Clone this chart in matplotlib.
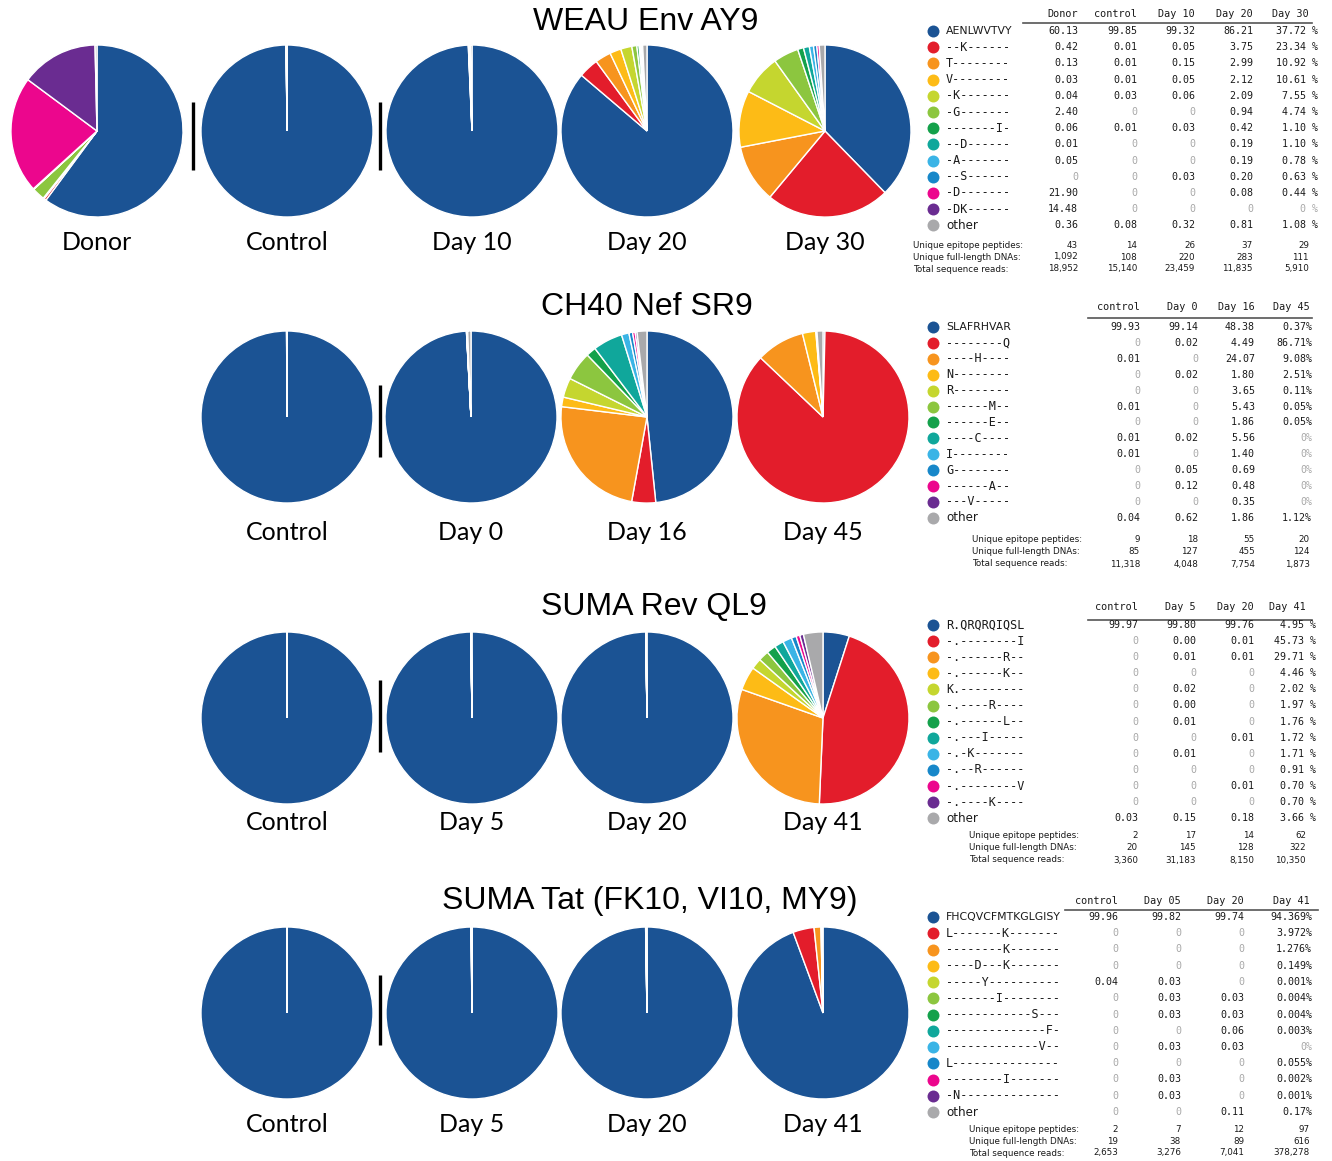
import matplotlib
matplotlib.use("Agg")
import matplotlib.pyplot as plt

W, H = 1332, 1161

# variant colours, in legend order
variant_colors = ["#1b5394", "#e31d2b", "#f7941e", "#fdbb16", "#c5d62f", "#8cc63f",
                  "#14a14b", "#10a79b", "#3ab4e6", "#1787c9", "#ec068d", "#6a2c91",
                  "#a9a9ab"]

stat_names = ["Unique epitope peptides:", "Unique full-length DNAs:", "Total sequence reads:"]

# ---------------- WEAU Env AY9 ----------------
weau_title = "WEAU Env AY9"
weau_pie_labels = ["Donor", "Control", "Day 10", "Day 20", "Day 30"]
weau_headers = ["Donor", "control", "Day 10", "Day 20", "Day 30"]
weau_variants = ["AENLWVTVY", "--K------", "T--------", "V--------", "-K-------", "-G-------",
                 "-------I-", "--D------", "-A-------", "--S------", "-D-------", "-DK------", "other"]
weau_donor = [60.13, 0.42, 0.13, 0.03, 0.04, 2.40, 0.06, 0.01, 0.05, 0, 21.90, 14.48, 0.36]
weau_control = [99.85, 0.01, 0.01, 0.01, 0.03, 0, 0.01, 0, 0, 0, 0, 0, 0.08]
weau_day10 = [99.32, 0.05, 0.15, 0.05, 0.06, 0, 0.03, 0, 0, 0.03, 0, 0, 0.32]
weau_day20 = [86.21, 3.75, 2.99, 2.12, 2.09, 0.94, 0.42, 0.19, 0.19, 0.20, 0.08, 0, 0.81]
weau_day30 = [37.72, 23.34, 10.92, 10.61, 7.55, 4.74, 1.10, 1.10, 0.78, 0.63, 0.44, 0, 1.08]
weau_epitopes = [43, 14, 26, 37, 29]
weau_dnas = [1092, 108, 220, 283, 111]
weau_reads = [18952, 15140, 23459, 11835, 5910]

# ---------------- CH40 Nef SR9 ----------------
ch40_title = "CH40 Nef SR9"
ch40_pie_labels = ["Control", "Day 0", "Day 16", "Day 45"]
ch40_headers = ["control", "Day 0", "Day 16", "Day 45"]
ch40_variants = ["SLAFRHVAR", "--------Q", "----H----", "N--------", "R--------", "------M--",
                 "------E--", "----C----", "I--------", "G--------", "------A--", "---V-----", "other"]
ch40_control = [99.93, 0, 0.01, 0, 0, 0.01, 0, 0.01, 0.01, 0, 0, 0, 0.04]
ch40_day0 = [99.14, 0.02, 0, 0.02, 0, 0, 0, 0.02, 0, 0.05, 0.12, 0, 0.62]
ch40_day16 = [48.38, 4.49, 24.07, 1.80, 3.65, 5.43, 1.86, 5.56, 1.40, 0.69, 0.48, 0.35, 1.86]
ch40_day45 = [0.37, 86.71, 9.08, 2.51, 0.11, 0.05, 0.05, 0, 0, 0, 0, 0, 1.12]
ch40_epitopes = [9, 18, 55, 20]
ch40_dnas = [85, 127, 455, 124]
ch40_reads = [11318, 4048, 7754, 1873]

# ---------------- SUMA Rev QL9 ----------------
rev_title = "SUMA Rev QL9"
rev_pie_labels = ["Control", "Day 5", "Day 20", "Day 41"]
rev_headers = ["control", "Day 5", "Day 20", "Day 41"]
rev_variants = ["R.QRQRQIQSL", "-.--------I", "-.------R--", "-.------K--", "K.---------",
                "-.----R----", "-.------L--", "-.---I-----", "-.-K-------", "-.--R------",
                "-.--------V", "-.----K----", "other"]
rev_control = [99.97, 0, 0, 0, 0, 0, 0, 0, 0, 0, 0, 0, 0.03]
rev_day5 = [99.80, 0.004, 0.01, 0, 0.02, 0.004, 0.01, 0, 0.01, 0, 0, 0, 0.15]
rev_day20 = [99.76, 0.01, 0.01, 0, 0, 0, 0, 0.01, 0, 0, 0.01, 0, 0.18]
rev_day41 = [4.95, 45.73, 29.71, 4.46, 2.02, 1.97, 1.76, 1.72, 1.71, 0.91, 0.70, 0.70, 3.66]
rev_epitopes = [2, 17, 14, 62]
rev_dnas = [20, 145, 128, 322]
rev_reads = [3360, 31183, 8150, 10350]

# ---------------- SUMA Tat ----------------
tat_title = "SUMA Tat (FK10, VI10, MY9)"
tat_pie_labels = ["Control", "Day 5", "Day 20", "Day 41"]
tat_headers = ["control", "Day 05", "Day 20", "Day 41"]
tat_variants = ["FHCQVCFMTKGLGISY", "L-------K-------", "--------K-------", "----D---K-------",
                "-----Y----------", "-------I--------", "------------S---", "--------------F-",
                "-------------V--", "L---------------", "--------I-------", "-N--------------", "other"]
tat_control = [99.96, 0, 0, 0, 0.04, 0, 0, 0, 0, 0, 0, 0, 0]
tat_day5 = [99.82, 0, 0, 0, 0.03, 0.03, 0.03, 0, 0.03, 0, 0.03, 0.03, 0]
tat_day20 = [99.74, 0, 0, 0, 0, 0.03, 0.03, 0.06, 0.03, 0, 0, 0, 0.11]
tat_day41 = [94.369, 3.972, 1.276, 0.149, 0.001, 0.004, 0.004, 0.003, 0, 0.055, 0.002, 0.001, 0.17]
tat_epitopes = [2, 7, 12, 97]
tat_dnas = [19, 38, 89, 616]
tat_reads = [2653, 3276, 7041, 378278]

panels = [
    dict(title=weau_title, title_xy=(646, 22), pie_labels=weau_pie_labels,
         columns=[weau_donor, weau_control, weau_day10, weau_day20, weau_day30],
         headers=weau_headers, variants=weau_variants,
         stats=[weau_epitopes, weau_dnas, weau_reads],
         pie_x=[97, 287, 472, 647, 825], pie_y=131, label_y=243,
         bars=[193, 380], bar_y=(102, 170),
         head_y=14, rule=(1023, 1312, 23), row_y0=31, row_dy=16.2,
         col_x=[1078, 1137, 1195, 1253, 1318], last_head_x=1309,
         stat_y=[245, 257, 269], stat_x=913, last_dec=2, pct=" %"),
    dict(title=ch40_title, title_xy=(647, 307), pie_labels=ch40_pie_labels,
         columns=[ch40_control, ch40_day0, ch40_day16, ch40_day45],
         headers=ch40_headers, variants=ch40_variants,
         stats=[ch40_epitopes, ch40_dnas, ch40_reads],
         pie_x=[287, 471, 647, 823], pie_y=417, label_y=533,
         bars=[380], bar_y=(385, 457),
         head_y=307, rule=(1088, 1312, 318), row_y0=327, row_dy=15.9,
         col_x=[1140, 1198, 1255, 1312], last_head_x=1310,
         stat_y=[540, 552, 564], stat_x=972, last_dec=2, pct="%"),
    dict(title=rev_title, title_xy=(654, 607), pie_labels=rev_pie_labels,
         columns=[rev_control, rev_day5, rev_day20, rev_day41],
         headers=rev_headers, variants=rev_variants,
         stats=[rev_epitopes, rev_dnas, rev_reads],
         pie_x=[287, 472, 647, 823], pie_y=718, label_y=823,
         bars=[380], bar_y=(680, 752),
         head_y=607, rule=(1088, 1312, 620), row_y0=625, row_dy=16.1,
         col_x=[1138, 1196, 1254, 1316], last_head_x=1306,
         stat_y=[836, 848, 860], stat_x=969, last_dec=2, pct=" %"),
    dict(title=tat_title, title_xy=(650, 901), pie_labels=tat_pie_labels,
         columns=[tat_control, tat_day5, tat_day20, tat_day41],
         headers=tat_headers, variants=tat_variants,
         stats=[tat_epitopes, tat_dnas, tat_reads],
         pie_x=[287, 472, 647, 823], pie_y=1013, label_y=1125,
         bars=[380], bar_y=(975, 1045),
         head_y=901, rule=(1065, 1318, 910), row_y0=917, row_dy=16.25,
         col_x=[1118, 1181, 1244, 1312], last_head_x=1310,
         stat_y=[1129, 1141, 1153], stat_x=969, last_dec=3, pct="%"),
]

fig = plt.figure(figsize=(W / 100, H / 100), dpi=100)
ax = fig.add_axes([0, 0, 1, 1])


def Y(py):
    return H - py


def draw_pie(cx, cy, values):
    vals = [v for v in values if v > 0]
    cols = [c for v, c in zip(values, variant_colors) if v > 0]
    big = vals.index(max(vals))
    explode = [0 if i == big else 0.05 for i in range(len(vals))]
    ax.pie(vals, colors=cols, startangle=90, counterclock=False,
           center=(cx, Y(cy)), radius=86, explode=explode, frame=True,
           wedgeprops=dict(edgecolor="white", linewidth=1.0))


def fmt_value(v, dec):
    s = f"{v:.{dec}f}"
    if dec > 2:
        s = s.rstrip("0")
        if s.endswith("."):
            s += "0"
        if len(s.split(".")[1]) < 2:
            s += "0"
    return s


TEXT = "#1a1a1a"
ZERO = "#a8a8a8"

for p in panels:
    # title
    ax.text(p["title_xy"][0], Y(p["title_xy"][1]), p["title"], ha="center", va="center",
            fontsize=23, family="Liberation Sans", color="black")
    # pies + labels
    for cx, col, lab in zip(p["pie_x"], p["columns"], p["pie_labels"]):
        draw_pie(cx, p["pie_y"], col)
        ax.text(cx, Y(p["label_y"]), lab, ha="center", va="center",
                fontsize=18, family="Lato", color="black")
    # separator bars
    for bx in p["bars"]:
        ax.plot([bx, bx], [Y(p["bar_y"][0]), Y(p["bar_y"][1])], color="black",
                lw=2.4, solid_capstyle="butt")

    # table header and rule
    ncol = len(p["headers"])
    for j, hdr in enumerate(p["headers"]):
        hx = p["last_head_x"] if j == ncol - 1 else p["col_x"][j]
        ax.text(hx, Y(p["head_y"]), hdr, ha="right", va="center",
                fontsize=7.3, family="DejaVu Sans Mono", color=TEXT)
    x0, x1, ry = p["rule"]
    ax.plot([x0, x1], [Y(ry), Y(ry)], color="#555555", lw=1.2)

    # legend rows with values
    for i, var in enumerate(p["variants"]):
        y = Y(p["row_y0"] + i * p["row_dy"])
        ax.plot(933, y, "o", ms=8.6, color=variant_colors[i], mec="none")
        mono = ("-" in var) or ("." in var)
        ax.text(946, y, var, ha="left", va="center",
                fontsize=8.5 if mono else (8.6 if var == "other" else 7.8),
                family="DejaVu Sans Mono" if mono else "DejaVu Sans",
                color=TEXT)
        for j, col in enumerate(p["columns"]):
            v = col[i]
            last = j == ncol - 1
            dec = p["last_dec"] if last else 2
            if v == 0:
                s, c = "0", ZERO
            else:
                s, c = fmt_value(v, dec), TEXT
            if last:
                s += p["pct"]
            ax.text(p["col_x"][j], y, s, ha="right", va="center",
                    fontsize=7.2, family="DejaVu Sans Mono", color=c)

    # summary statistics
    for k, (name, vals) in enumerate(zip(stat_names, p["stats"])):
        y = Y(p["stat_y"][k])
        ax.text(p["stat_x"], y, name, ha="left", va="center",
                fontsize=6.3, family="DejaVu Sans", color=TEXT)
        for j, v in enumerate(vals):
            hx = p["last_head_x"] if j == ncol - 1 else p["col_x"][j]
            ax.text(hx, y, f"{v:,}", ha="right", va="center",
                    fontsize=6.3, family="DejaVu Sans", color=TEXT)

ax.set_xlim(0, W)
ax.set_ylim(0, H)
ax.axis("off")
fig.savefig("out.png", dpi=100, facecolor="white")
